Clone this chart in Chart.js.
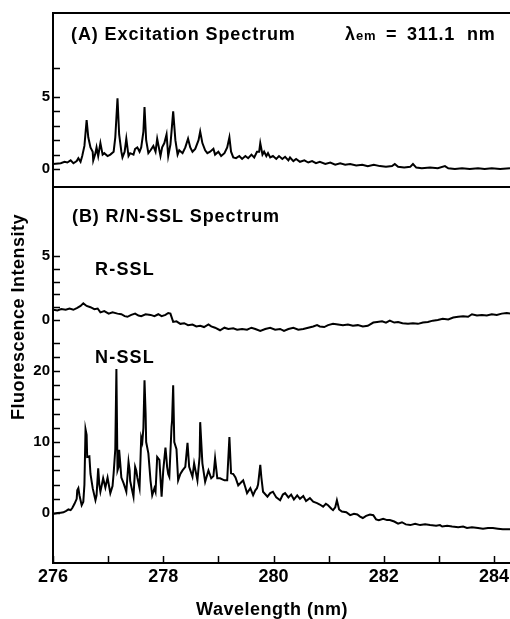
<!DOCTYPE html>
<html lang="en">
<head>
<meta charset="UTF-8">
<title>Excitation and R/N-SSL Spectra</title>
<script src="https://cdn.jsdelivr.net/npm/chart.js"></script>
<style>
  body { margin: 0; background: #fff; }
</style>
</head>
<body>
<canvas id="spectra" width="510" height="619"></canvas>
<script>
  // (A) excitation spectrum, lambda_em = 311.1 nm
  const excWl = [276.00, 276.14, 276.21, 276.26, 276.32, 276.37, 276.43, 276.46, 276.50, 276.53, 276.57, 276.61, 276.64, 276.68, 276.72, 276.73, 276.77, 276.79, 276.82, 276.86, 276.90, 276.93, 276.99, 277.04, 277.10, 277.13, 277.17, 277.20, 277.24, 277.26, 277.30, 277.33, 277.37, 277.40, 277.46, 277.49, 277.53, 277.57, 277.60, 277.64, 277.66, 277.69, 277.73, 277.77, 277.82, 277.86, 277.89, 277.93, 277.95, 277.98, 278.02, 278.06, 278.09, 278.13, 278.15, 278.18, 278.22, 278.26, 278.29, 278.35, 278.40, 278.45, 278.49, 278.53, 278.58, 278.64, 278.67, 278.71, 278.76, 278.80, 278.85, 278.91, 278.94, 279.00, 279.05, 279.11, 279.16, 279.20, 279.23, 279.27, 279.32, 279.38, 279.43, 279.49, 279.54, 279.60, 279.65, 279.70, 279.74, 279.76, 279.80, 279.83, 279.87, 279.90, 279.94, 279.99, 280.05, 280.10, 280.16, 280.21, 280.27, 280.30, 280.36, 280.41, 280.48, 280.56, 280.63, 280.70, 280.77, 280.84, 280.94, 281.03, 281.12, 281.21, 281.30, 281.39, 281.50, 281.61, 281.71, 281.82, 281.93, 282.04, 282.15, 282.20, 282.26, 282.37, 282.48, 282.53, 282.59, 282.69, 282.84, 282.98, 283.11, 283.17, 283.29, 283.42, 283.56, 283.71, 283.83, 283.96, 284.11, 284.29];
  const excInt = [0.35, 0.4, 0.5, 0.45, 0.6, 0.4, 0.55, 0.75, 0.5, 0.9, 1.6, 3.4, 2.2, 1.5, 1.2, 0.6, 1.1, 1.5, 0.9, 1.8, 1.0, 1.1, 0.9, 1.0, 1.2, 2.2, 4.9, 2.4, 1.2, 0.8, 1.2, 2.1, 0.9, 1.1, 1.0, 1.4, 1.5, 1.2, 1.5, 2.6, 4.3, 2.0, 1.1, 1.3, 1.6, 1.2, 2.1, 1.3, 0.9, 1.5, 1.8, 2.4, 0.9, 1.7, 2.6, 4.0, 2.0, 1.0, 1.3, 1.1, 1.5, 2.1, 1.5, 1.2, 1.4, 2.0, 2.6, 1.8, 1.3, 1.1, 1.2, 1.4, 1.0, 1.2, 0.9, 1.1, 1.5, 2.2, 1.2, 0.8, 0.75, 0.9, 0.7, 0.9, 0.75, 1.0, 0.8, 1.2, 1.2, 1.8, 1.0, 1.2, 0.9, 1.1, 0.8, 0.9, 0.7, 0.9, 0.7, 0.85, 0.6, 0.8, 0.55, 0.7, 0.5, 0.6, 0.45, 0.55, 0.4, 0.5, 0.35, 0.45, 0.3, 0.4, 0.3, 0.35, 0.25, 0.3, 0.2, 0.3, 0.2, 0.15, 0.2, 0.35, 0.15, 0.1, 0.15, 0.35, 0.1, 0.05, 0.1, 0.05, 0.2, 0.05, 0.0, 0.05, 0.0, 0.05, 0.0, 0.05, 0.0, 0.05];

  // (B) R-SSL trace
  const rsslWl = [276.01, 276.08, 276.15, 276.23, 276.30, 276.37, 276.44, 276.50, 276.55, 276.61, 276.68, 276.75, 276.81, 276.86, 276.93, 277.01, 277.08, 277.17, 277.24, 277.30, 277.35, 277.42, 277.49, 277.55, 277.60, 277.68, 277.77, 277.84, 277.91, 277.97, 278.04, 278.09, 278.13, 278.18, 278.24, 278.31, 278.38, 278.45, 278.53, 278.60, 278.67, 278.74, 278.82, 278.87, 278.94, 279.03, 279.11, 279.18, 279.27, 279.34, 279.43, 279.52, 279.60, 279.67, 279.76, 279.85, 279.94, 280.03, 280.12, 280.19, 280.27, 280.36, 280.45, 280.54, 280.63, 280.72, 280.79, 280.84, 280.92, 280.99, 281.08, 281.17, 281.26, 281.35, 281.44, 281.53, 281.62, 281.71, 281.81, 281.88, 281.97, 282.04, 282.11, 282.19, 282.26, 282.34, 282.44, 282.53, 282.62, 282.71, 282.80, 282.89, 282.98, 283.07, 283.17, 283.26, 283.35, 283.44, 283.53, 283.60, 283.69, 283.78, 283.87, 283.96, 284.05, 284.14, 284.23, 284.29];
  const rsslInt = [0.8, 0.75, 0.85, 0.8, 0.9, 0.8, 0.95, 1.1, 1.3, 1.1, 1.0, 0.85, 0.9, 0.6, 0.7, 0.5, 0.6, 0.5, 0.45, 0.3, 0.25, 0.4, 0.5, 0.35, 0.3, 0.45, 0.4, 0.3, 0.45, 0.3, 0.4, 0.55, 0.5, -0.15, -0.1, -0.3, -0.25, -0.4, -0.35, -0.5, -0.45, -0.55, -0.35, -0.5, -0.6, -0.8, -0.6, -0.7, -0.65, -0.75, -0.7, -0.75, -0.6, -0.7, -0.85, -0.7, -0.6, -0.75, -0.7, -0.85, -0.7, -0.6, -0.75, -0.7, -0.6, -0.5, -0.4, -0.5, -0.55, -0.4, -0.3, -0.35, -0.4, -0.35, -0.45, -0.4, -0.5, -0.45, -0.2, -0.15, -0.1, -0.2, -0.05, -0.2, -0.15, -0.25, -0.3, -0.25, -0.3, -0.2, -0.15, -0.05, 0.0, 0.1, 0.05, 0.2, 0.25, 0.3, 0.25, 0.45, 0.35, 0.4, 0.35, 0.45, 0.4, 0.5, 0.55, 0.5];

  // (B) N-SSL trace
  const nsslWl = [276.01, 276.08, 276.14, 276.19, 276.24, 276.28, 276.32, 276.35, 276.39, 276.43, 276.44, 276.46, 276.48, 276.52, 276.55, 276.57, 276.59, 276.61, 276.62, 276.66, 276.68, 276.72, 276.77, 276.79, 276.82, 276.84, 276.86, 276.90, 276.91, 276.95, 276.99, 277.04, 277.08, 277.10, 277.13, 277.15, 277.17, 277.19, 277.20, 277.22, 277.24, 277.28, 277.31, 277.33, 277.37, 277.39, 277.40, 277.46, 277.49, 277.51, 277.53, 277.57, 277.60, 277.62, 277.64, 277.66, 277.68, 277.69, 277.73, 277.77, 277.80, 277.84, 277.86, 277.89, 277.93, 277.97, 278.00, 278.04, 278.06, 278.07, 278.09, 278.11, 278.15, 278.16, 278.18, 278.20, 278.24, 278.27, 278.31, 278.35, 278.40, 278.44, 278.47, 278.53, 278.56, 278.62, 278.66, 278.67, 278.71, 278.76, 278.82, 278.87, 278.91, 278.94, 278.98, 279.03, 279.11, 279.16, 279.20, 279.23, 279.27, 279.31, 279.36, 279.41, 279.45, 279.49, 279.52, 279.58, 279.63, 279.67, 279.70, 279.72, 279.76, 279.78, 279.81, 279.89, 279.94, 279.99, 280.05, 280.12, 280.17, 280.21, 280.27, 280.32, 280.37, 280.43, 280.48, 280.54, 280.59, 280.66, 280.72, 280.79, 280.84, 280.90, 280.95, 280.99, 281.05, 281.08, 281.12, 281.15, 281.19, 281.24, 281.32, 281.39, 281.46, 281.52, 281.57, 281.62, 281.68, 281.75, 281.81, 281.86, 281.91, 281.99, 282.06, 282.11, 282.19, 282.26, 282.33, 282.40, 282.48, 282.57, 282.66, 282.75, 282.84, 282.95, 283.02, 283.06, 283.15, 283.24, 283.35, 283.44, 283.51, 283.60, 283.71, 283.80, 283.89, 283.98, 284.07, 284.16, 284.29];
  const nsslInt = [-0.1, 0.0, 0.05, 0.1, 0.3, 0.5, 0.4, 0.7, 1.3, 2.0, 3.2, 3.5, 2.5, 1.1, 1.6, 4.0, 11.8, 11.0, 7.9, 8.0, 5.5, 3.5, 1.8, 2.5, 6.3, 4.0, 3.0, 4.5, 4.9, 3.6, 5.0, 2.8, 3.8, 5.6, 9.0, 20.3, 6.0, 6.5, 8.9, 7.0, 5.0, 4.2, 3.5, 3.0, 7.2, 6.0, 4.5, 2.3, 6.5, 6.0, 5.0, 3.5, 10.6, 10.0, 12.0, 18.7, 14.0, 10.0, 8.4, 4.5, 2.5, 3.5, 3.0, 7.9, 7.5, 2.3, 6.0, 9.2, 7.5, 6.5, 5.5, 5.1, 12.1, 13.0, 18.0, 10.0, 9.0, 4.6, 5.5, 6.0, 6.5, 9.9, 6.5, 5.1, 7.0, 4.6, 8.0, 12.8, 7.0, 4.4, 6.0, 4.9, 5.2, 7.7, 4.9, 4.9, 4.6, 4.6, 10.7, 5.6, 5.5, 5.0, 3.9, 4.3, 4.6, 3.6, 2.8, 3.5, 2.5, 3.2, 3.5, 4.0, 6.8, 5.0, 3.0, 2.3, 2.8, 3.0, 2.2, 1.8, 2.6, 2.8, 2.2, 2.6, 1.9, 2.5, 2.0, 2.4, 1.7, 2.1, 1.6, 1.4, 1.2, 0.9, 1.3, 1.1, 0.6, 0.4, 0.8, 1.8, 0.5, 0.2, 0.1, -0.3, -0.1, -0.2, -0.5, -0.7, -0.4, -0.2, -0.3, -0.9, -1.0, -0.8, -1.0, -1.0, -1.2, -1.5, -1.3, -1.6, -1.7, -1.5, -1.7, -1.6, -1.7, -1.8, -1.7, -1.9, -1.8, -1.9, -2.0, -1.9, -2.1, -2.0, -2.1, -2.2, -2.1, -2.1, -2.2, -2.3, -2.3];

  // axis ticks (values and the labels printed next to them)
  const xTicks = [276, 277, 278, 279, 280, 281, 282, 283, 284];
  const xLabels = ['276', '', '278', '', '280', '', '282', '', '284'];
  const excTicks = [0, 1, 2, 3, 4, 5, 7];
  const excLabels = ['0', '', '', '', '', '5', ''];
  const rsslTicks = [0, 1, 2, 3, 4, 5];
  const rsslLabels = ['0', '', '', '', '', '5'];
  const nsslTicks = [0, 2, 4, 6, 8, 10, 12, 14, 16, 18, 20, 22, 24];
  const nsslLabels = ['0', '', '', '', '', '10', '', '', '', '', '20', '', ''];

  const FONT = '"Liberation Sans", Arial, Helvetica, sans-serif';
  const INK = '#000';

  const toPoints = (xs, ys) => xs.map((x, i) => ({ x: x, y: ys[i] }));

  function trace(label, xs, ys, axis) {
    return {
      label: label,
      data: toPoints(xs, ys),
      yAxisID: axis,
      borderColor: INK,
      borderWidth: 2,
      pointRadius: 0,
      tension: 0,
      fill: false
    };
  }

  function panelAxis(min, max, weight, order, ticks, labels) {
    return {
      type: 'linear',
      position: 'left',
      stack: 'panels',
      stackWeight: weight,
      weight: order,
      min: min,
      max: max,
      grid: { display: false, drawTicks: false },
      border: { display: true, color: INK, width: 2 },
      ticks: {
        autoSkip: false,
        color: INK,
        padding: 3,
        font: { family: FONT, size: 15, weight: 'bold' },
        callback: (v, i) => labels[i]
      },
      afterBuildTicks: s => { s.ticks = ticks.map(v => ({ value: v })); },
      afterFit: s => { s.width = 53; s.paddingTop = 0; s.paddingBottom = 0; }
    };
  }

  // inward tick marks, frame lines and the text annotations
  const decorations = {
    id: 'decorations',
    afterDraw(chart) {
      const { ctx, chartArea, scales } = chart;
      ctx.save();
      ctx.strokeStyle = INK;
      ctx.fillStyle = INK;
      ctx.lineWidth = 2;

      ctx.beginPath();
      ctx.moveTo(chartArea.left, chartArea.top);
      ctx.lineTo(chartArea.right, chartArea.top);
      ctx.moveTo(chartArea.left, scales.yExc.bottom);
      ctx.lineTo(chartArea.right, scales.yExc.bottom);
      ctx.stroke();

      ctx.lineWidth = 1.5;
      ctx.beginPath();
      ['yExc', 'yRssl', 'yNssl'].forEach(id => {
        const s = scales[id];
        s.ticks.forEach(t => {
          const py = Math.round(s.getPixelForValue(t.value)) + 0.5;
          ctx.moveTo(s.right, py);
          ctx.lineTo(s.right + 7, py);
        });
      });
      scales.x.ticks.forEach(t => {
        const px = Math.round(scales.x.getPixelForValue(t.value)) + 0.5;
        ctx.moveTo(px, chartArea.bottom);
        ctx.lineTo(px, chartArea.bottom - 7);
      });
      ctx.stroke();

      ctx.textBaseline = 'alphabetic';
      ctx.textAlign = 'left';
      ctx.font = 'bold 18px ' + FONT;
      ctx.letterSpacing = '0.9px';
      ctx.fillText('(A) Excitation Spectrum', 71, 40);
      ctx.fillText('(B) R/N-SSL Spectrum', 72, 222);
      ctx.letterSpacing = '1.2px';
      ctx.fillText('R-SSL', 95, 275);
      ctx.fillText('N-SSL', 95, 363);

      // lambda_em = 311.1 nm, pieces placed along the top line
      ctx.letterSpacing = '0.8px';
      ctx.fillText('\u03bb', 345, 40);
      ctx.font = 'bold 13px ' + FONT;
      ctx.fillText('em', 345 + 11, 40);
      ctx.font = 'bold 18px ' + FONT;
      ctx.fillText('=', 386, 40);
      ctx.fillText('311.1', 407, 40);
      ctx.fillText('nm', 467, 40);

      ctx.letterSpacing = '0.5px';
      ctx.textAlign = 'center';
      ctx.fillText('Wavelength (nm)', 272, 615);

      ctx.translate(24, 317);
      ctx.rotate(-Math.PI / 2);
      ctx.fillText('Fluorescence Intensity', 0, 0);
      ctx.restore();
    }
  };

  new Chart(document.getElementById('spectra'), {
    type: 'line',
    data: {
      datasets: [
        trace('Excitation', excWl, excInt, 'yExc'),
        trace('R-SSL', rsslWl, rsslInt, 'yRssl'),
        trace('N-SSL', nsslWl, nsslInt, 'yNssl')
      ]
    },
    options: {
      responsive: false,
      animation: false,
      devicePixelRatio: 1,
      layout: { padding: { top: 13, left: 0, right: 0, bottom: 0 } },
      plugins: {
        legend: { display: false },
        tooltip: { enabled: false }
      },
      scales: {
        x: {
          type: 'linear',
          position: 'bottom',
          min: 276,
          max: 284.29,
          grid: { display: false, drawTicks: false },
          border: { display: true, color: INK, width: 2 },
          ticks: {
            autoSkip: false,
            maxRotation: 0,
            color: INK,
            padding: 3,
            font: { family: FONT, size: 18, weight: 'bold' },
            callback: (v, i) => xLabels[i]
          },
          afterBuildTicks: s => { s.ticks = xTicks.map(v => ({ value: v })); },
          afterFit: s => { s.height = 56; s.paddingLeft = 0; s.paddingRight = 0; }
        },
        yExc: panelAxis(-1.25, 10.83, 174, 3, excTicks, excLabels),
        yRssl: panelAxis(-1.6, 10.39, 153.5, 2, rsslTicks, rsslLabels),
        yNssl: panelAxis(-7.04, 24.3, 222.5, 1, nsslTicks, nsslLabels)
      }
    },
    plugins: [decorations]
  });
</script>
</body>
</html>
